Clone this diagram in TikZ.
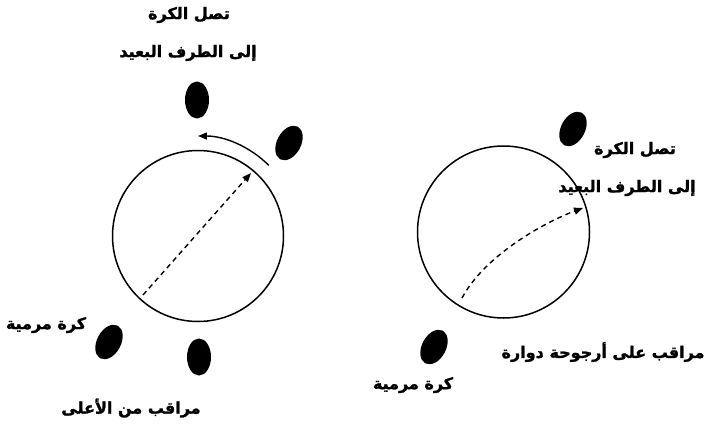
\documentclass[tikz,border=0pt]{standalone}
\usepackage{fontspec}
\usetikzlibrary{shapes.geometric,arrows.meta}
\TeXXeTstate=1
\newfontfamily\arabicfont[Script=Arabic,BoldFeatures={FakeBold=1.5}]{DejaVu Sans}
\begin{document}
\begin{tikzpicture}[x=1pt,y=-1pt,
  ball/.style={ellipse, fill=black, minimum width=24pt, minimum height=37pt, inner sep=0pt},
  ring/.style={circle, draw, line width=1.5pt, minimum size=171pt, inner sep=0pt},
  lbl/.style={font=\arabicfont\bfseries\fontsize{16}{18}\selectfont, inner sep=0pt},
  dasharrow/.style={dash pattern=on 5pt off 4pt, line width=1.4pt, -{Triangle[length=9pt,width=7pt]}},
  solidarrow/.style={line width=1.4pt, -{Triangle[length=9pt,width=7pt]}},
]
\useasboundingbox (0,0) rectangle (711,425);
% left diagram
\node[ring] (L) at (198,236) {};
\node[ball] (T1) at (197,100) {};
\node[ball, rotate=-28] (U1) at (289,143) {};
\node[ball, rotate=-28] (K1) at (109,342) {};
\node[ball] (B1) at (199,357) {};
\coordinate (ls) at (143,295);
\coordinate (le) at (251,173);
\draw[dasharrow] (ls) -- (le);
\coordinate (as) at (268.7,165.3);
\draw[solidarrow] (as) arc[start angle=-45, end angle=-90, radius=100];
\node[lbl] (t1) at (189,15) {\beginR تصل الكرة\endR};
\node[lbl] (t2) at (188,53) {\beginR إلى الطرف البعيد\endR};
\node[lbl] (t3) at (46,325) {\beginR كرة مرمية\endR};
\node[lbl] (t4) at (131,408) {\beginR مراقب من الأعلى\endR};
% right diagram
\node[ring, minimum size=172pt] (R) at (503.5,232) {};
\node[ball, rotate=-28] (U2) at (573,129) {};
\node[ball, rotate=-28] (K2) at (434,347) {};
\coordinate (rs) at (462,298);
\coordinate (re) at (583,208);
\draw[dasharrow] (rs) .. controls (485,255) and (545,222) .. (re);
\node[lbl] (r1) at (635,150) {\beginR تصل الكرة\endR};
\node[lbl] (r2) at (627,188) {\beginR إلى الطرف البعيد\endR};
\node[lbl] (r3) at (603,352) {\beginR مراقب على أرجوحة دوارة\endR};
\node[lbl] (r4) at (413,385) {\beginR كرة مرمية\endR};
\end{tikzpicture}
\end{document}
